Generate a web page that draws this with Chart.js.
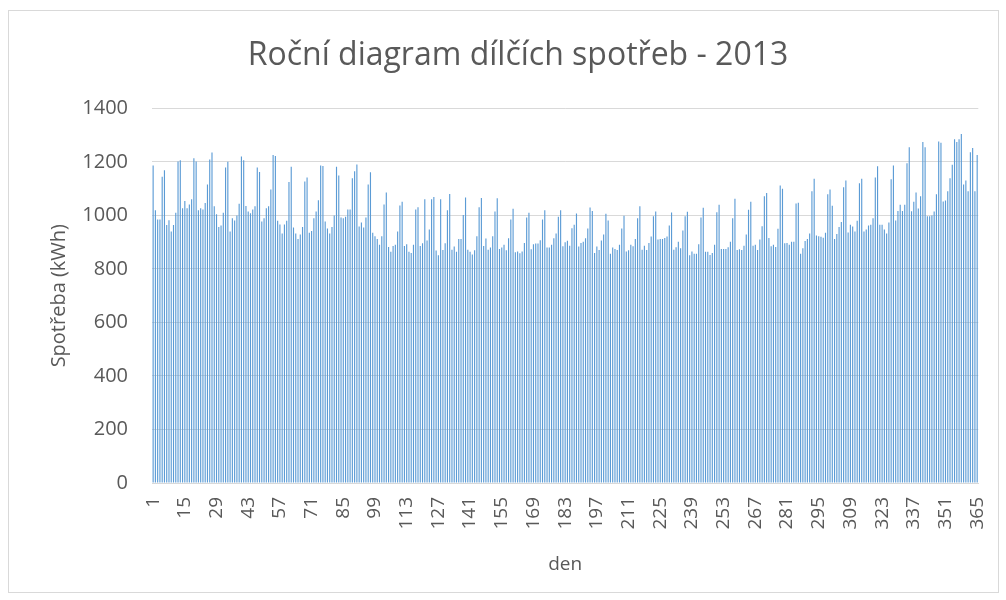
<!DOCTYPE html>
<html>
<head>
<meta charset="utf-8">
<script src="https://cdn.jsdelivr.net/npm/chart.js@4/dist/chart.umd.min.js"></script>
<style>
  body { margin: 0; background: #fff; }
  #wrap { width: 1006px; height: 600px; position: relative; }
</style>
</head>
<body>
<div id="wrap"><canvas id="chart" width="1006" height="600"></canvas></div>
<script>
// denni spotreba 2013 (kWh)
const jan = [1187, 1019, 985, 985, 1145, 1169, 964, 982, 940, 964, 1010, 1202, 1206, 1027, 1054, 1027, 1041, 1060, 1214, 1202, 1019, 1027, 1022, 1046, 1116, 1209, 1235, 1034, 1004, 957, 962];
const feb = [1010, 1179, 1201, 940, 989, 981, 1000, 1044, 1220, 1206, 1035, 1015, 1008, 1022, 1034, 1179, 1162, 977, 989, 1027, 1034, 1097, 1226, 1222, 980, 966, 932, 966];
const mar = [980, 1125, 1182, 955, 932, 912, 929, 957, 1127, 1142, 935, 942, 989, 1015, 1057, 1187, 1185, 977, 951, 932, 957, 1000, 1182, 1149, 992, 989, 995, 1022, 1022, 1139, 1165];
const apr = [1190, 959, 974, 955, 992, 1116, 1161, 935, 922, 912, 890, 922, 1041, 1086, 882, 864, 886, 890, 940, 1037, 1051, 886, 892, 864, 860, 890, 1022, 1031, 886, 896];
const may = [1060, 906, 947, 1060, 1069, 869, 851, 1060, 871, 896, 1019, 1080, 872, 884, 864, 912, 912, 1002, 1067, 872, 864, 854, 870, 922, 1031, 1065, 886, 914, 872, 880, 922];
const jun = [1015, 1064, 875, 880, 890, 870, 915, 985, 1025, 862, 865, 859, 865, 897, 992, 1010, 874, 892, 895, 895, 907, 985, 1019, 880, 880, 890, 915, 932, 995, 1019];
const jul = [885, 900, 905, 887, 952, 965, 1007, 884, 897, 902, 915, 951, 1030, 1017, 860, 884, 871, 906, 929, 1006, 981, 857, 880, 875, 871, 890, 951, 999, 865, 870, 890];
const aug = [885, 912, 989, 1034, 872, 887, 871, 897, 921, 997, 1015, 910, 912, 912, 916, 921, 962, 1011, 872, 881, 902, 877, 944, 997, 1014, 851, 865, 857, 857, 892, 992];
const sep = [1029, 864, 864, 852, 860, 890, 1012, 1040, 875, 875, 875, 881, 902, 989, 1062, 871, 874, 871, 887, 929, 1021, 1051, 887, 890, 871, 910, 960, 1072, 1084, 916];
const oct = [885, 890, 882, 950, 1112, 1100, 896, 897, 890, 902, 902, 1045, 1047, 857, 877, 904, 912, 932, 1090, 1137, 925, 922, 920, 917, 935, 1079, 1097, 1036, 912, 931, 957];
const nov = [975, 1105, 1131, 936, 965, 959, 940, 980, 1120, 1137, 940, 947, 962, 965, 989, 1142, 1184, 965, 965, 947, 932, 974, 1135, 1187, 981, 1017, 1040, 1017, 1040, 1195];
const dec = [1255, 1016, 1051, 1086, 1026, 1072, 1274, 1255, 997, 997, 1000, 1015, 1079, 1276, 1272, 1052, 1056, 1090, 1139, 1189, 1285, 1274, 1285, 1304, 1116, 1131, 1090, 1236, 1252, 1090, 1226];

const values = [].concat(jan, feb, mar, apr, may, jun, jul, aug, sep, oct, nov, dec);
const days = values.map((v, i) => String(i + 1));

const textColor = '#595959';
const font = 'Open Sans, Liberation Sans, sans-serif';

const outline = {
    id: 'outline',
    beforeDraw(chart) {
        const c = chart.ctx;
        c.save();
        c.fillStyle = '#fff';
        c.fillRect(0, 0, chart.width, chart.height);
        c.strokeStyle = '#d9d9d9';
        c.lineWidth = 1;
        c.strokeRect(8.5, 10.5, 990, 582);
        c.restore();
    }
};

new Chart(document.getElementById('chart'), {
    type: 'bar',
    data: {
        labels: days,
        datasets: [{
            data: values,
            backgroundColor: '#5B9BD5',
            barPercentage: 0.5,
            categoryPercentage: 1.0
        }]
    },
    options: {
        responsive: false,
        animation: false,
        layout: { padding: { top: 10, left: 47, right: 17, bottom: 20 } },
        plugins: {
            legend: { display: false },
            tooltip: { enabled: false },
            title: {
                display: true,
                text: 'Roční diagram dílčích spotřeb - 2013',
                color: textColor,
                font: { family: font, size: 32, weight: 'normal' },
                padding: { top: 27, bottom: 33 }
            }
        },
        scales: {
            x: {
                grid: { display: false },
                border: { color: '#d9d9d9' },
                ticks: {
                    autoSkip: false,
                    minRotation: 90,
                    maxRotation: 90,
                    padding: 6,
                    color: textColor,
                    font: { family: font, size: 19 },
                    callback: (val, i) => (i % 14 === 0 ? days[i] : '')
                },
                title: {
                    display: true,
                    text: 'den',
                    color: textColor,
                    font: { family: font, size: 19 },
                    padding: { top: 0, bottom: 4 }
                },
                afterFit: (s) => { s.height = 97; }
            },
            y: {
                min: 0,
                max: 1400,
                border: { display: false },
                grid: { color: '#d9d9d9', drawTicks: false },
                ticks: {
                    stepSize: 200,
                    padding: 24,
                    color: textColor,
                    font: { family: font, size: 20 },
                    callback: (v) => String(v)
                },
                title: {
                    display: true,
                    text: 'Spotřeba (kWh)',
                    color: textColor,
                    font: { family: font, size: 20 },
                    padding: 0
                },
                afterFit: (s) => { s.width = 105; }
            }
        }
    },
    plugins: [outline]
});
</script>
</body>
</html>
